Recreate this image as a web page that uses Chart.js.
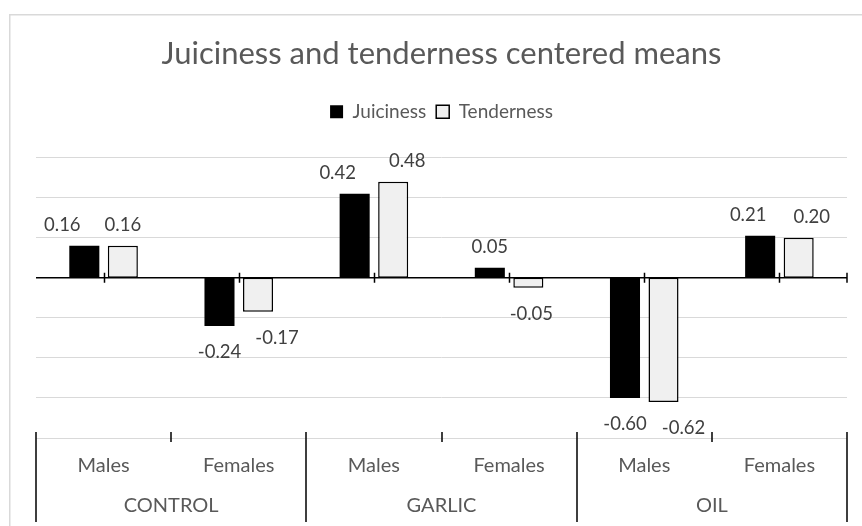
<!DOCTYPE html>
<html>
<head>
<meta charset="utf-8">
<script src="https://cdn.jsdelivr.net/npm/chart.js@4"></script>
<style>
  html, body { margin: 0; padding: 0; background: #ffffff; }
  #wrap { width: 862px; height: 526px; }
</style>
</head>
<body>
<div id="wrap"><canvas id="GraficaCanvas"></canvas></div>
<script>
const subcategorias = ["Males", "Females", "Males", "Females", "Males", "Females"];
const grupos = ["CONTROL", "GARLIC", "OIL"];
const juiciness = [0.16, -0.24, 0.42, 0.05, -0.60, 0.21];
const tenderness = [0.16, -0.17, 0.48, -0.05, -0.62, 0.20];

// small sideways nudges Excel applied to some labels
const nudgeJuiciness = [-22, 0, -17, 0, 0, -12];
const nudgeTenderness = [0, 19, 14, 3, 20, 13];

const FONT = "Lato";
const GRIS = "#595959";

const marco = {
  id: "marco",
  beforeDraw(chart) {
    const ctx = chart.ctx;
    ctx.save();
    ctx.fillStyle = "#ffffff";
    ctx.fillRect(0, 0, chart.width, chart.height);
    ctx.strokeStyle = "#d9d9d9";
    ctx.lineWidth = 1.5;
    ctx.beginPath();
    ctx.moveTo(9.75, chart.height + 2);
    ctx.lineTo(9.75, 14.75);
    ctx.lineTo(chart.width + 2, 14.75);
    ctx.stroke();
    ctx.restore();
  },
};

const legendaEspacio = {
  id: "legendaEspacio",
  beforeInit(chart) {
    const fitOriginal = chart.legend.fit;
    chart.legend.fit = function () {
      fitOriginal.bind(chart.legend)();
      this.height += 26.5;
    };
  },
};

const ejeCategorias = {
  id: "ejeCategorias",
  afterDatasetsDraw(chart) {
    const ctx = chart.ctx;
    const x = chart.scales.x;
    const y = chart.scales.y;
    const area = chart.chartArea;
    const paso = x.getPixelForValue(1) - x.getPixelForValue(0);
    const y0 = y.getPixelForValue(0);

    ctx.save();
    ctx.strokeStyle = "#000000";
    ctx.lineWidth = 1.5;

    // zero line with its marks
    ctx.beginPath();
    ctx.moveTo(area.left, y0);
    ctx.lineTo(area.right, y0);
    ctx.stroke();
    ctx.beginPath();
    for (let i = 0; i < subcategorias.length; i++) {
      const px = Math.round(x.getPixelForValue(i)) + 0.5;
      ctx.moveTo(px, y0 - 5);
      ctx.lineTo(px, y0 + 5);
    }
    ctx.moveTo(area.right, y0 - 5);
    ctx.lineTo(area.right, y0 + 5);
    ctx.stroke();

    // multi-level category separators
    const yb = area.bottom;
    ctx.beginPath();
    for (let i = 0; i <= subcategorias.length; i++) {
      const px = Math.round(x.getPixelForValue(i) - paso / 2);
      if (i % 2 === 0) {
        ctx.moveTo(px, yb - 6);
        ctx.lineTo(px, yb + 84);
      } else {
        ctx.moveTo(px, yb - 6);
        ctx.lineTo(px, yb + 4);
      }
    }
    ctx.stroke();

    ctx.fillStyle = GRIS;
    ctx.font = "20px " + FONT;
    ctx.textAlign = "center";
    ctx.textBaseline = "middle";
    grupos.forEach((g, k) => {
      const cx = (x.getPixelForValue(2 * k) + x.getPixelForValue(2 * k + 1)) / 2;
      ctx.fillText(g, cx, yb + 68);
    });

    // data labels
    ctx.fillStyle = "#404040";
    ctx.font = "18.5px " + FONT;
    const nudges = [nudgeJuiciness, nudgeTenderness];
    chart.data.datasets.forEach((ds, d) => {
      chart.getDatasetMeta(d).data.forEach((bar, i) => {
        const v = ds.data[i];
        const py = v >= 0 ? bar.y - 21 : bar.y + 26;
        ctx.fillText(v.toFixed(2), bar.x + nudges[d][i], py);
      });
    });
    ctx.restore();
  },
};

const ctx = document.getElementById("GraficaCanvas").getContext("2d");

new Chart(ctx, {
  type: "bar",
  data: {
    labels: subcategorias,
    datasets: [
      {
        label: "Juiciness",
        data: juiciness,
        backgroundColor: "#000000",
        borderColor: "#000000",
        borderWidth: 0,
        categoryPercentage: 0.57,
        barPercentage: 0.78,
      },
      {
        label: "Tenderness",
        data: tenderness,
        backgroundColor: "#f0f0f0",
        borderColor: "#000000",
        borderWidth: 1.5,
        borderSkipped: false,
        categoryPercentage: 0.57,
        barPercentage: 0.78,
      },
    ],
  },
  options: {
    responsive: true,
    maintainAspectRatio: false,
    animation: false,
    layout: { padding: { left: 36, right: 15, top: 14, bottom: 0 } },
    scales: {
      x: {
        grid: { display: false },
        border: { display: false },
        ticks: {
          color: GRIS,
          font: { family: FONT, size: 20 },
          padding: 8,
          maxRotation: 0,
        },
        afterFit(scale) {
          scale.height = 88;
        },
      },
      y: {
        min: -0.8,
        max: 0.6,
        ticks: { display: false, stepSize: 0.2 },
        border: { display: false },
        grid: { color: "#d9d9d9", lineWidth: 1, drawTicks: false },
        afterFit(scale) {
          scale.width = 0;
        },
      },
    },
    plugins: {
      title: {
        display: true,
        text: "Juiciness and tenderness centered means",
        color: GRIS,
        font: { family: FONT, size: 31, weight: "normal" },
        padding: { top: 21, bottom: 20 },
      },
      legend: {
        display: true,
        labels: {
          color: GRIS,
          font: { family: FONT, size: 19 },
          boxWidth: 13,
          boxHeight: 13,
          padding: 10,
        },
      },
      tooltip: { enabled: false },
    },
  },
  plugins: [marco, legendaEspacio, ejeCategorias],
});
</script>
</body>
</html>
